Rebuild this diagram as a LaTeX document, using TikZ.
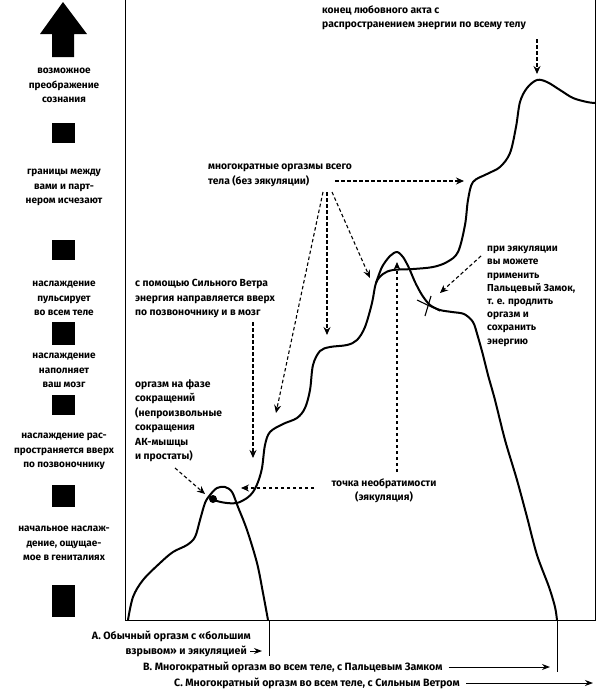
\documentclass[tikz,border=0pt]{standalone}
\usepackage{fontspec}
\setmainfont{Fira Sans}
\usetikzlibrary{arrows.meta}
\begin{document}
\begin{tikzpicture}[x=1pt,y=-1pt,
  lbl/.style={font=\bfseries\fontsize{10.3}{14.5}\selectfont, inner sep=0pt, align=left, anchor=north west},
  side/.style={lbl, font=\bfseries\fontsize{10}{14.5}\selectfont, align=center, anchor=north},
  captext/.style={font=\bfseries\fontsize{10.6}{14}\selectfont, inner sep=0pt},
  blk/.style={fill=black},
  curve/.style={line width=2pt, line join=round, line cap=round},
  dasharrow/.style={line width=1.1pt, dash pattern=on 3.5pt off 2.5pt, -{Stealth[length=8pt,width=7pt]}},
  caparrow/.style={line width=1pt, -{Stealth[length=8pt,width=6pt]}},
  frame/.style={line width=0.9pt}]

\useasboundingbox (0,0) rectangle (600,691);

% frame
\coordinate (tl) at (125,0);
\coordinate (bl) at (125,620);
\coordinate (br) at (595,620);
\coordinate (tr) at (595,0);
\draw[frame] (tl) -- (bl) -- (br) -- (tr);
\coordinate (tA) at (269,620);
\coordinate (tAe) at (269,656);
\coordinate (tB) at (557,620);
\coordinate (tBe) at (557,672);
\draw[frame] (tA) -- (tAe);
\draw[frame] (tB) -- (tBe);

% left scale
\fill[blk] (63,2) -- (87,34) -- (74,34) -- (74,57) -- (52,57) -- (52,34) -- (40,34) -- cycle;
\fill[blk] (52,123) rectangle (75,143);
\fill[blk] (52,240) rectangle (75,260);
\fill[blk] (52,322) rectangle (75,345);
\fill[blk] (52,395) rectangle (75,415);
\fill[blk] (52,485) rectangle (75,507);
\fill[blk] (52,585) rectangle (75,617);

\node[side] (s1) at (64,68) {возможное\\преображение\\сознания};
\node[side] (s2) at (64,169) {границы между\\вами и парт-\\нером исчезают};
\node[side] (s3) at (64,281) {наслаждение\\пульсирует\\во всем теле};
\node[side] (s4) at (64,353) {наслаждение\\наполняет\\ваш мозг};
\node[side] (s5) at (64,433) {наслаждение рас-\\пространяется вверх\\по позвоночнику};
\node[side] (s6) at (64,526) {начальное наслаж-\\дение, ощущае-\\мое в гениталиях};

% curve A
\draw[curve] plot[smooth, tension=0.55] coordinates {(128,620) (133,597) (143,580) (160,563) (173,552) (187,545) (195,537) (200,520) (205,503) (210,495) (217,488) (225,487) (232,492) (238,507) (247,530) (257,563) (263,593) (268,620)};
% curve C
\draw[curve] plot[smooth, tension=0.55] coordinates {(210,497) (217,501) (227,503) (237,503) (247,498) (253,492) (258,482) (262,468) (265,445) (270,432) (283,424) (297,418) (305,408) (310,390) (313,365) (320,351) (330,347) (347,345) (357,340) (365,327) (372,303) (376,283) (383,274) (393,270) (413,269) (433,267) (447,262) (458,252) (465,225) (468,200) (473,182) (487,174) (500,167) (510,153) (516,127) (520,102) (527,88) (537,80) (547,82) (560,90) (573,98) (587,102) (595,103)};
% curve B
\draw[curve] plot[smooth, tension=0.5] coordinates {(376,283) (382,267) (390,256) (397,252) (403,257) (409,268) (415,282) (422,295) (430,305) (440,310) (452,312) (464,314) (473,322) (478,337) (483,355) (488,375) (495,400) (505,440) (517,480) (527,517) (537,555) (549,587) (555,607) (557,620)};

% dot and cross
\fill (213,499) circle (4pt);
\draw[line width=1.1pt] (417,300) -- (440,311);
\draw[line width=1.1pt] (431,296) -- (425,316);

% labels
\node[lbl] (top) at (322,5) {конец любовного акта с\\распространением энергии по всему телу};
\coordinate (topA) at (537,39);
\coordinate (topB) at (537,74);
\draw[dasharrow] (topA) -- (topB);

\node[lbl] (multi) at (208,164) {многократные оргазмы всего\\тела (без эякуляции)};
\coordinate (m0) at (335,181);
\coordinate (m1) at (464,181);
\coordinate (m2) at (327,192);
\coordinate (m3) at (327,335);
\coordinate (m4) at (323,192);
\coordinate (m5) at (276,413);
\coordinate (m6) at (332,192);
\coordinate (m7) at (370,278);
\draw[dasharrow] (m0) -- (m1);
\draw[dasharrow] (m2) -- (m3);
\draw[dasharrow] (m4) -- (m5);
\draw[dasharrow] (m6) -- (m7);

\node[lbl] (wind) at (135,279) {с помощью Сильного Ветра\\энергия направляется вверх\\по позвоночнику и в мозг};
\coordinate (w0) at (253,322);
\coordinate (w1) at (253,458);
\draw[dasharrow] (w0) -- (w1);

\node[lbl] (contr) at (135,379) {оргазм на фазе\\сокращений\\(непроизвольные\\сокращения\\АК-мышцы\\и простаты)};
\coordinate (c0) at (175,468);
\coordinate (c1) at (205,494);
\draw[dasharrow] (c0) -- (c1);

\node[lbl, align=center, anchor=north] (irr) at (384,478) {точка необратимости\\(эякуляция)};
\coordinate (i0) at (314,488);
\coordinate (i1) at (241,488);
\coordinate (i2) at (397,472);
\coordinate (i3) at (397,262);
\draw[dasharrow] (i0) -- (i1);
\draw[dasharrow] (i2) -- (i3);

\node[lbl, font=\bfseries\fontsize{10.1}{13.2}\selectfont] (lock) at (487,246) {при эякуляции\\вы можете\\применить\\Пальцевый Замок,\\т. е. продлить\\оргазм и\\сохранить\\энергию};
\coordinate (l0) at (481,256);
\coordinate (l1) at (440,293);
\draw[dasharrow] (l0) -- (l1);

% captions
\node[captext, anchor=east] (capA1) at (251,636) {А. Обычный оргазм с «большим};
\node[captext, anchor=east] (capA2) at (247,651) {взрывом» и эякуляцией};
\coordinate (aA) at (262,651);
\draw[caparrow] ([xshift=3pt]capA2.east) -- (aA);
\node[captext, anchor=west] (capB) at (143,667) {В. Многократный оргазм во всем теле, с Пальцевым Замком};
\coordinate (aB) at (550,667);
\draw[caparrow] ([xshift=6pt]capB.east) -- (aB);
\node[captext, anchor=west] (capC) at (174,683) {С. Многократный оргазм во всем теле, с Сильным Ветром};
\coordinate (aC) at (593,683);
\draw[caparrow] ([xshift=6pt]capC.east) -- (aC);
\end{tikzpicture}
\end{document}
